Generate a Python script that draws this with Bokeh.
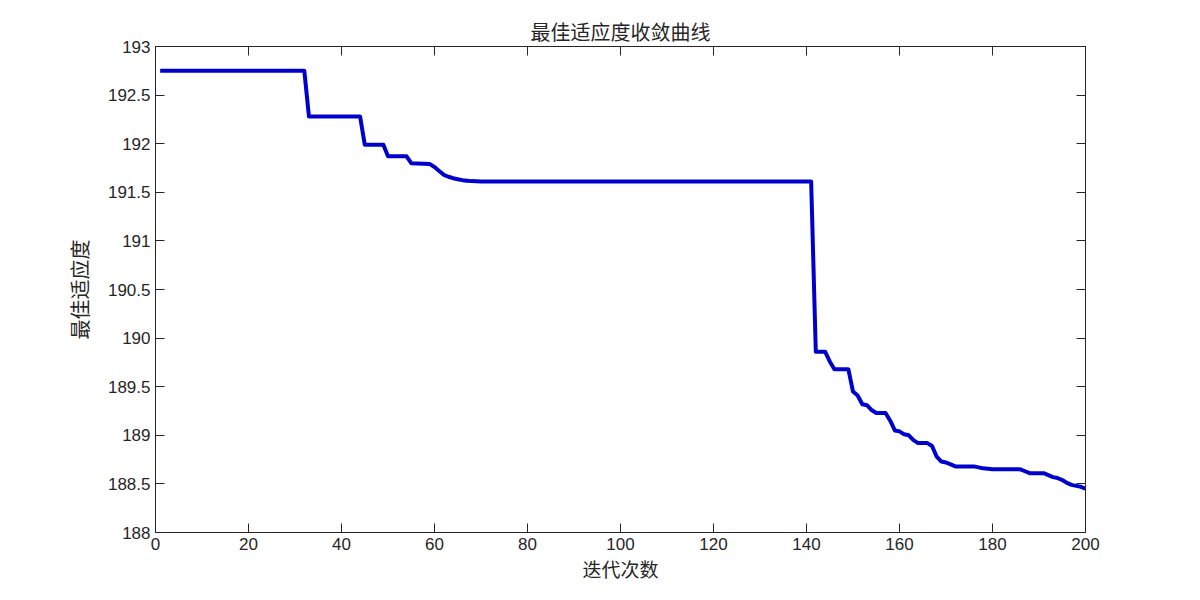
from bokeh.plotting import figure
from bokeh.models import (FixedTicker, LinearAxis, Range1d, CustomJSTickFormatter, ColumnDataSource)
from bokeh.embed import file_html
from bokeh.resources import INLINE

# ---- data ----
iters = [1, 32, 33, 44, 45, 49, 50, 54, 55, 59, 60, 61, 62, 63, 64, 65, 66, 67, 68, 70,
         141, 142, 144, 145, 146, 149, 150, 151, 152, 153, 154, 155, 157, 158, 159, 160,
         161, 162, 163, 164, 166, 167, 168, 169, 170, 171, 172, 176, 178, 180, 186, 187,
         188, 191, 192, 193, 194, 195, 196, 197, 198, 199, 200]
fitness = [192.75, 192.75, 192.28, 192.28, 191.99, 191.99, 191.87, 191.87, 191.80, 191.79,
           191.76, 191.72, 191.68, 191.66, 191.645, 191.635, 191.625, 191.62, 191.615, 191.61,
           191.61, 189.86, 189.86, 189.76, 189.68, 189.68, 189.45, 189.41, 189.32, 189.31,
           189.26, 189.23, 189.23, 189.15, 189.05, 189.04, 189.01, 189.00, 188.95, 188.92,
           188.92, 188.89, 188.78, 188.73, 188.72, 188.70, 188.68, 188.68, 188.66, 188.65,
           188.65, 188.63, 188.61, 188.61, 188.59, 188.57, 188.56, 188.54, 188.51, 188.49,
           188.48, 188.47, 188.45]
x_ticks = [0, 20, 40, 60, 80, 100, 120, 140, 160, 180, 200]
y_ticks = [188, 188.5, 189, 189.5, 190, 190.5, 191, 191.5, 192, 192.5, 193]
title_text = "最佳适应度收敛曲线"
x_label = "迭代次数"
y_label = "最佳适应度"

AX = "#262626"
NUM_FONT = "Liberation Sans"
CJK_FONT = "Noto Sans CJK SC"

p = figure(width=1184, height=584, output_backend="svg", toolbar_location=None,
           x_range=Range1d(0, 200), y_range=Range1d(188, 193),
           x_axis_type=None, y_axis_type=None,
           min_border_left=155, min_border_right=99, min_border_top=46, min_border_bottom=51)
p.background_fill_color = "white"
p.border_fill_color = "white"
p.outline_line_color = AX
p.outline_line_width = 1

p.title.text = title_text
p.title.align = "center"
p.title.text_font = CJK_FONT
p.title.text_font_size = "20px"
p.title.text_font_style = "normal"
p.title.text_color = AX
p.title.standoff = 2

fmt = CustomJSTickFormatter(code="return String(Math.round(tick*10)/10);")

def style(ax, show_labels):
    ax.axis_line_color = AX
    ax.axis_line_width = 1
    ax.major_tick_in = 9
    ax.major_tick_out = 0
    ax.major_tick_line_color = AX
    ax.minor_tick_line_color = None
    ax.major_label_text_font = NUM_FONT
    ax.major_label_text_font_size = "17px"
    ax.major_label_text_color = AX
    if not show_labels:
        ax.major_label_text_font_size = "0px"
        ax.major_label_text_alpha = 0

xb = LinearAxis(ticker=FixedTicker(ticks=x_ticks), formatter=fmt)
style(xb, True)
xb.axis_label = x_label
xb.axis_label_text_font = CJK_FONT
xb.axis_label_text_font_size = "19px"
xb.axis_label_text_font_style = "normal"
xb.axis_label_text_color = AX
xb.axis_label_standoff = 2
xb.major_label_standoff = 5
p.add_layout(xb, "below")

yl = LinearAxis(ticker=FixedTicker(ticks=y_ticks), formatter=fmt)
style(yl, True)
yl.axis_label = y_label
yl.axis_label_text_font = CJK_FONT
yl.axis_label_text_font_size = "20px"
yl.axis_label_text_font_style = "normal"
yl.axis_label_text_color = AX
yl.axis_label_standoff = 11
yl.major_label_standoff = 5
p.add_layout(yl, "left")

xt = LinearAxis(ticker=FixedTicker(ticks=x_ticks), formatter=fmt)
style(xt, False)
p.add_layout(xt, "above")
yr = LinearAxis(ticker=FixedTicker(ticks=y_ticks), formatter=fmt)
style(yr, False)
p.add_layout(yr, "right")

p.xgrid.ticker = FixedTicker(ticks=x_ticks)
p.ygrid.ticker = FixedTicker(ticks=y_ticks)
for g in (p.xgrid, p.ygrid):
    g.grid_line_color = "#dcdcdc"
    g.grid_line_width = 1

src = ColumnDataSource(data=dict(x=iters, y=fitness))
p.line("x", "y", source=src, line_color="#0000cd", line_width=4, line_join="round")

open("out.html", "w").write(file_html(p, INLINE))
